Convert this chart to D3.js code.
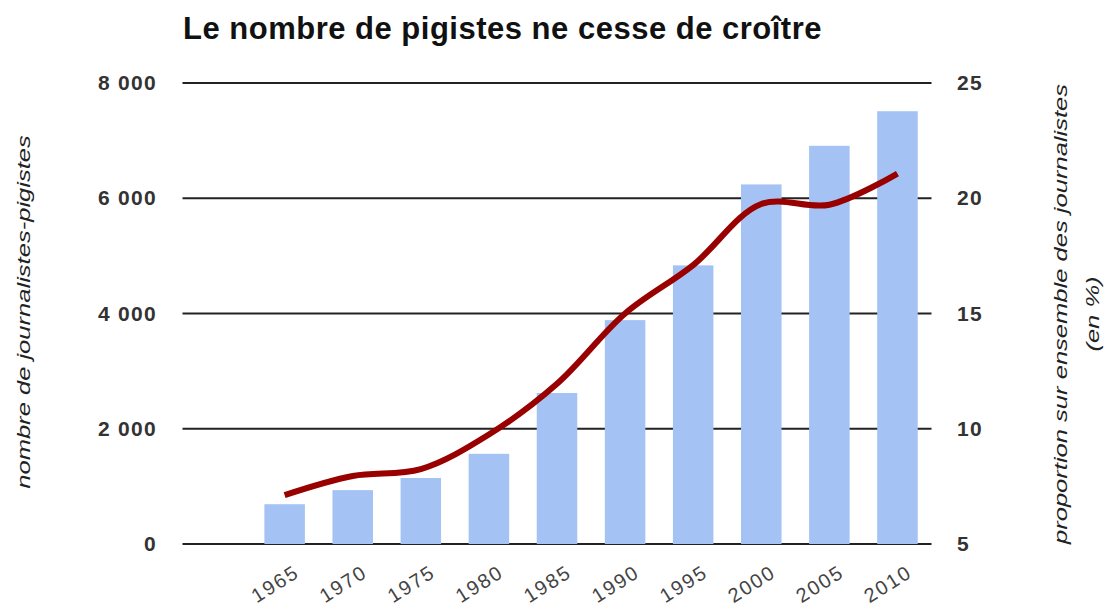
<!DOCTYPE html>
<html>
<head>
<meta charset="utf-8">
<script src="https://cdn.jsdelivr.net/npm/d3@7"></script>
<style>
  body { margin: 0; background: #fff; }
  svg { display: block; font-family: "Liberation Sans", Arial, sans-serif; }
</style>
</head>
<body>
<figure id="chart" style="margin:0"></figure>
<script>
// data
const years = ["1965", "1970", "1975", "1980", "1985", "1990", "1995", "2000", "2005", "2010"];
const pigistes = [690, 935, 1145, 1565, 2620, 3885, 4835, 6240, 6910, 7510];
const proportion = [7.12, 7.95, 8.25, 9.75, 11.95, 15.0, 17.1, 19.75, 19.72, 21.07];
const leftTicks = [0, 2000, 4000, 6000, 8000];
const rightTicks = [5, 10, 15, 20, 25];
const slots = [""].concat(years); // first slot is empty in the original

const width = 1104, height = 608;
const plotLeft = 182.5, plotRight = 931.5, plotTop = 83, plotBottom = 544;

const fr = d3.formatLocale({ decimal: ",", thousands: " ", grouping: [3], currency: ["", " €"] });

const svg = d3.select("figure#chart")
  .append("svg")
  .attr("width", width)
  .attr("height", height);

const x = d3.scaleBand()
  .domain(slots)
  .range([plotLeft, plotRight])
  .paddingInner(0.405)
  .paddingOuter(0.2025);

const yLeft = d3.scaleLinear().domain([0, 8000]).range([plotBottom, plotTop]);
const yRight = d3.scaleLinear().domain([5, 25]).range([plotBottom, plotTop]);

// title
svg.append("text")
  .attr("x", 183)
  .attr("y", 39)
  .attr("font-size", 31)
  .attr("letter-spacing", 0.5)
  .attr("font-weight", "bold")
  .attr("fill", "#111")
  .text("Le nombre de pigistes ne cesse de croître");

// gridlines
svg.append("g")
  .selectAll("line")
  .data(leftTicks)
  .enter()
  .append("line")
  .attr("x1", plotLeft)
  .attr("x2", plotRight)
  .attr("y1", d => yLeft(d))
  .attr("y2", d => yLeft(d))
  .attr("stroke", "#222")
  .attr("stroke-width", 1.8);

// bars
svg.append("g")
  .selectAll("rect")
  .data(years)
  .enter()
  .append("rect")
  .attr("x", d => x(d))
  .attr("width", x.bandwidth())
  .attr("y", (d, i) => yLeft(pigistes[i]))
  .attr("height", (d, i) => yLeft(0) - yLeft(pigistes[i]))
  .attr("fill", "#a4c2f4");

// left axis
const axL = svg.append("g")
  .attr("transform", "translate(" + 157 + ",0)")
  .call(d3.axisLeft(yLeft).tickValues(leftTicks).tickSize(0).tickPadding(0).tickFormat(fr.format(",d")));
axL.select(".domain").remove();
axL.selectAll("text")
  .attr("font-size", 21)
  .attr("letter-spacing", 1.3)
  .attr("font-weight", "bold")
  .attr("fill", "#333")
  .attr("font-family", "Liberation Sans, Arial, sans-serif");

// right axis
const axR = svg.append("g")
  .attr("transform", "translate(" + 957 + ",0)")
  .call(d3.axisRight(yRight).tickValues(rightTicks).tickSize(0).tickPadding(0));
axR.select(".domain").remove();
axR.selectAll("text")
  .attr("font-size", 21)
  .attr("letter-spacing", 1.3)
  .attr("font-weight", "bold")
  .attr("fill", "#333")
  .attr("font-family", "Liberation Sans, Arial, sans-serif");

// bottom labels
svg.append("g")
  .selectAll("text")
  .data(years)
  .enter()
  .append("text")
  .attr("transform", d => "translate(" + (x(d) + x.bandwidth() / 2 + 16) + "," + 576 + ") rotate(-32)")
  .attr("text-anchor", "end")
  .attr("font-size", 20)
  .attr("letter-spacing", 1.8)
  .attr("fill", "#444")
  .text(d => d);

// proportion line
const line = d3.line()
  .x((d, i) => x(years[i]) + x.bandwidth() / 2)
  .y(d => yRight(d))
  .curve(d3.curveCatmullRom);

svg.append("path")
  .datum(proportion)
  .attr("d", line)
  .attr("fill", "none")
  .attr("stroke", "#990000")
  .attr("stroke-width", 6);

// axis titles (stretched along their length like the original)
svg.append("text")
  .attr("transform", "translate(30,312) rotate(-90) scale(1.42,1)")
  .attr("text-anchor", "middle")
  .attr("font-size", 18)
  .attr("font-style", "italic")
  .attr("fill", "#222")
  .text("nombre de journalistes-pigistes");

svg.append("text")
  .attr("transform", "translate(1067,314) rotate(-90) scale(1.42,1)")
  .attr("text-anchor", "middle")
  .attr("font-size", 18)
  .attr("font-style", "italic")
  .attr("fill", "#222")
  .text("proportion sur ensemble des journalistes");

svg.append("text")
  .attr("transform", "translate(1099,314) rotate(-90) scale(1.42,1)")
  .attr("text-anchor", "middle")
  .attr("font-size", 18)
  .attr("font-style", "italic")
  .attr("fill", "#222")
  .text("(en %)");
</script>
</body>
</html>
